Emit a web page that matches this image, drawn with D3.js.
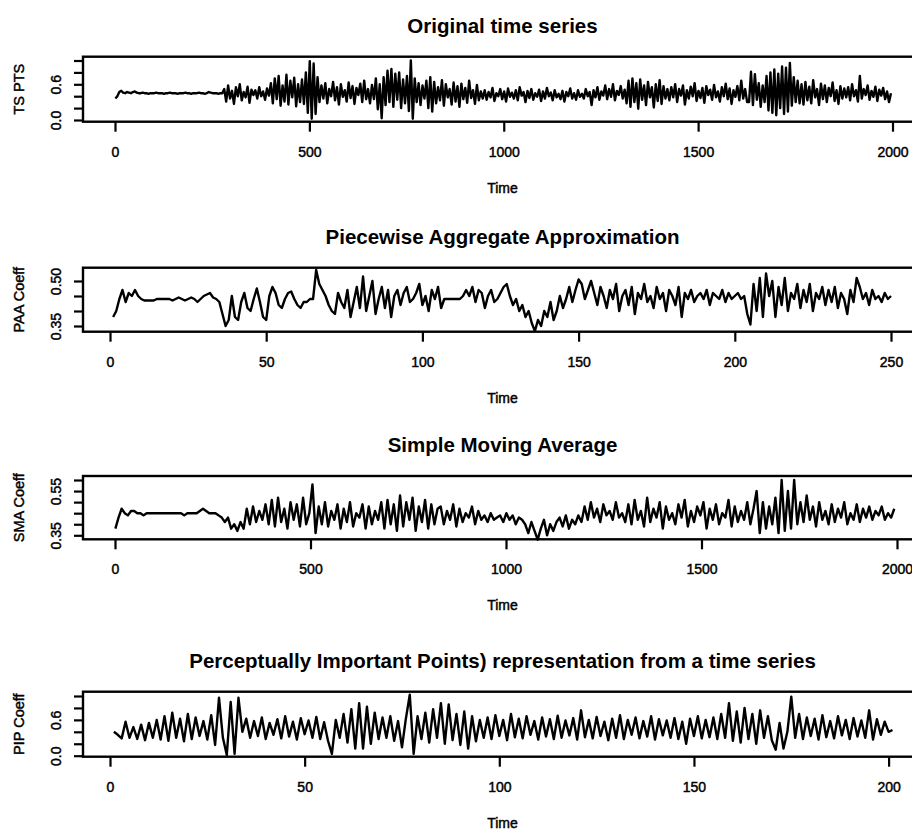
<!DOCTYPE html>
<html>
<head>
<meta charset="utf-8">
<script src="https://cdn.jsdelivr.net/npm/d3@7"></script>
<style>
body { margin: 0; background: #fff; }
text { font-family: "Liberation Sans", Arial, sans-serif; fill: #000; }
.lbl { stroke: #000; stroke-width: 0.45px; }
</style>
</head>
<body>
<div id="chart"></div>
<script>
//Data (one value every "step" time units)

//Original time series: t = 1, 6, 11, ... , 1996
var tsStep = 5;
var tsValues = [
    0.36,0.40,0.47,0.49,0.46,0.45,0.47,0.46,0.45,0.47,0.48,0.46,0.45,0.45,0.46,0.45,0.45,0.44,0.45,0.45,
    0.45,0.46,0.45,0.45,0.45,0.44,0.45,0.45,0.46,0.45,0.45,0.45,0.44,0.45,0.45,0.45,0.46,0.45,0.45,0.44,
    0.45,0.45,0.45,0.46,0.45,0.45,0.44,0.45,0.47,0.46,0.45,0.45,0.45,0.44,0.45,0.45,
    0.52,0.31,0.58,0.36,0.49,0.27,0.55,0.40,0.60,0.33,0.47,0.38,0.56,0.29,0.51,0.42,
    0.50,0.36,0.55,0.40,0.48,0.34,0.53,0.41,
    0.62,0.28,0.70,0.35,0.74,0.24,0.58,0.31,0.76,0.26,0.66,0.38,0.71,0.23,0.60,0.30,0.68,
    0.27,0.80,0.12,0.99,0.02,0.95,0.10,0.72,
    0.30,0.58,0.36,0.62,0.28,0.52,0.40,0.64,0.33,0.55,0.26,0.60,0.39,0.50,0.31,0.63,0.37,0.57,0.27,0.54,
    0.42,0.61,0.30,0.66,0.35,0.52,0.28,0.59,
    0.35,0.70,0.18,0.60,0.03,0.72,0.25,0.83,0.30,0.86,0.22,0.78,0.34,0.80,0.20,0.68,0.28,0.74,0.15,
    1.00,0.02,0.70,
    0.30,0.62,0.25,0.58,0.36,0.66,0.20,0.72,0.14,0.64,0.28,0.55,0.33,0.67,0.24,0.60,0.38,0.52,0.26,0.63,
    0.31,0.57,0.22,0.61,0.35,0.54,0.29,0.66,0.37,0.50,0.27,0.59,0.33,0.48,0.36,
    0.50,0.34,0.47,0.38,0.54,0.32,0.45,0.40,0.52,0.35,0.48,0.31,0.53,0.39,0.46,0.36,0.50,0.33,0.55,0.41,
    0.47,0.30,0.49,0.37,0.52,0.34,0.45,0.39,0.51,0.32,0.48,0.36,0.54,0.40,0.46,0.33,0.50,0.38,0.44,0.35,
    0.49,0.31,0.47,0.40,0.53,0.36,0.45,0.34,0.50,0.39,
    0.44,0.36,0.52,0.40,0.47,0.25,0.50,0.38,0.55,0.34,0.48,0.41,0.58,0.35,0.52,0.39,0.60,0.33,0.49,0.42,
    0.57,0.36,0.51,
    0.28,0.66,0.22,0.70,0.30,0.62,0.19,0.68,0.34,0.58,0.25,0.64,0.38,0.55,0.21,0.60,0.32,0.67,0.27,0.57,
    0.36,0.52,
    0.33,0.55,0.38,0.60,0.30,0.52,0.41,0.58,0.26,0.50,0.36,0.56,0.40,0.62,0.32,0.49,0.37,0.54,0.29,0.57,
    0.42,0.51,0.34,0.59,0.38,0.48,0.31,0.55,0.40,0.61,0.35,0.53,0.27,0.50,0.39,0.57,0.33,0.66,0.36,0.52,
    0.30,
    0.30,0.81,0.25,0.77,0.34,0.62,0.22,0.58,0.30,0.74,0.16,0.80,0.12,0.85,0.08,0.78,0.20,0.90,0.10,0.88,
    0.14,0.96,0.24,0.72,0.30,0.66,0.28,
    0.60,0.26,0.64,0.33,0.56,0.28,0.67,0.38,0.52,0.25,0.61,0.35,0.58,0.30,0.54,0.40,0.63,0.32,0.50,0.27,
    0.57,0.36,0.53,
    0.38,0.55,0.33,0.60,0.40,0.50,0.31,0.74,0.36,0.52,0.42,0.58,0.34,0.49,0.39,0.56,0.32,0.51,0.41,0.54,
    0.35,0.48,0.30,0.45
];

//Piecewise Aggregate Approximation: t = 1 .. 250
var paaStep = 1;
var paaValues = [
    0.38,0.40,0.44,0.47,0.43,0.46,0.45,0.47,0.45,0.44,
    0.435,0.435,0.435,0.435,0.44,0.44,0.44,0.44,0.44,0.435,
    0.44,0.445,0.44,0.435,0.44,0.445,0.44,0.43,0.44,0.45,
    0.455,0.46,0.445,0.44,0.43,0.39,0.35,0.37,0.45,0.38,
    0.37,0.43,0.46,0.41,0.40,0.44,0.475,0.43,0.38,0.37,
    0.45,0.48,0.46,0.42,0.41,0.44,0.46,0.465,0.44,0.42,
    0.41,0.43,0.43,0.44,0.44,0.537,0.49,0.47,0.45,0.42,
    0.40,0.39,0.46,0.43,0.41,0.47,0.38,0.43,0.48,0.41,
    0.515,0.40,0.45,0.50,0.39,0.44,0.48,0.41,0.47,0.38,
    0.45,0.47,0.42,0.46,0.48,0.43,0.44,0.46,0.49,0.42,
    0.45,0.40,0.47,0.44,0.48,0.41,0.44,0.44,0.44,0.44,
    0.44,0.44,0.45,0.47,0.45,0.48,0.43,0.47,0.46,0.41,
    0.45,0.47,0.43,0.44,0.46,0.48,0.49,0.45,0.42,0.44,
    0.40,0.42,0.38,0.40,0.36,0.333,0.37,0.35,0.40,0.38,
    0.43,0.37,0.40,0.45,0.41,0.44,0.48,0.43,0.47,0.505,
    0.49,0.44,0.47,0.50,0.46,0.42,0.48,0.45,0.41,0.47,
    0.44,0.49,0.40,0.45,0.47,0.42,0.48,0.39,0.46,0.44,
    0.49,0.43,0.45,0.41,0.48,0.44,0.46,0.40,0.47,0.45,
    0.42,0.48,0.38,0.46,0.44,0.47,0.43,0.45,0.46,0.44,
    0.47,0.42,0.46,0.45,0.44,0.47,0.43,0.46,0.44,0.45,
    0.46,0.44,0.45,0.39,0.355,0.49,0.40,0.51,0.38,0.525,
    0.45,0.50,0.38,0.48,0.42,0.51,0.40,0.46,0.44,0.49,
    0.41,0.47,0.43,0.49,0.40,0.46,0.44,0.48,0.42,0.47,
    0.43,0.48,0.41,0.46,0.44,0.39,0.47,0.43,0.51,0.48,
    0.44,0.46,0.42,0.47,0.44,0.45,0.43,0.46,0.44,0.45
];

//Simple Moving Average: t = 1, 9, 17, ... , 1993
var smaStep = 8;
var smaValues = [
    0.38,0.43,0.47,0.45,0.44,0.46,0.46,0.45,0.45,0.44,0.45,0.45,0.45,0.45,0.45,0.45,0.45,0.45,0.45,0.45,
    0.45,0.45,0.44,0.45,0.45,0.45,0.45,0.46,0.47,0.46,0.45,0.45,0.45,0.44,
    0.43,0.41,0.43,0.38,0.40,0.37,0.41,0.38,
    0.47,0.40,0.48,0.41,0.46,0.42,0.49,0.40,
    0.51,0.39,0.52,0.41,0.47,0.38,0.50,0.42,0.49,0.39,0.52,0.40,0.45,
    0.58,0.36,
    0.48,0.40,0.50,0.39,0.46,0.42,0.49,0.38,0.47,0.41,0.50,0.39,0.45,0.43,0.49,0.38,0.48,0.40,0.46,0.42,
    0.50,
    0.38,0.51,0.40,0.49,0.37,0.53,0.39,0.50,0.42,0.52,0.37,0.48,0.41,0.51,0.38,0.49,0.40,0.47,
    0.48,0.40,0.46,0.42,0.49,0.39,0.47,0.41,0.45,0.43,0.48,0.40,0.46,0.42,
    0.44,0.41,0.45,0.42,0.43,0.44,0.41,0.45,0.42,0.44,0.40,0.43,0.42,
    0.40,0.36,0.41,0.37,0.33,0.38,0.42,0.35,0.40,0.37,0.41,
    0.43,0.39,0.44,0.38,0.42,0.40,0.44,0.41,
    0.48,0.42,0.50,0.43,0.47,0.41,0.49,0.44,0.46,0.42,0.50,0.43,0.45,0.41,
    0.49,0.40,0.51,0.42,0.46,0.39,0.52,0.41,0.47,0.43,0.50,0.38,0.48,0.42,0.45,0.40,0.49,0.43,0.51,0.39,
    0.46,0.41,0.48,0.44,0.50,0.38,0.47,0.42,0.49,0.40,0.45,0.43,0.51,0.39,0.48,0.41,0.46,0.42,0.50,0.40,
    0.47,
    0.55,0.36,0.50,0.38,0.48,0.40,0.52,0.36,0.60,0.37,0.55,0.38,0.60,0.40,0.50,0.41,0.53,0.42,
    0.48,0.39,0.50,0.42,0.46,0.40,0.49,0.41,0.47,0.43,0.50,0.40,0.45,0.42,0.49,0.41,0.47,0.43,0.48,0.42,
    0.46,0.44,0.48,0.42,0.45,0.43,0.47
];

//Perceptually Important Points: t = 1 .. 201
var pipStep = 1;
var pipValues = [
    0.40,0.35,0.29,0.57,0.30,0.48,0.28,0.52,0.26,0.55,
    0.30,0.60,0.27,0.66,0.25,0.72,0.30,0.62,0.24,0.70,0.28,0.64,0.33,0.58,0.27,0.68,0.18,
    0.97,0.30,0.01,0.90,0.03,0.97,
    0.40,0.62,0.30,0.58,0.33,0.64,0.28,0.55,0.35,0.61,0.29,0.66,0.32,0.57,0.27,0.63,0.36,0.59,0.30,0.65,
    0.28,0.56,0.25,
    0.03,
    0.60,0.30,0.70,0.22,0.78,0.12,0.88,0.12,0.82,0.20,0.72,0.28,0.64,
    0.30,0.66,0.25,0.58,0.14,0.62,
    1.02,0.03,
    0.66,0.28,0.72,0.22,0.78,0.30,0.88,0.20,0.86,0.26,0.70,0.18,0.74,0.12,0.66,0.24,0.60,
    0.30,0.64,0.28,0.68,0.33,0.60,0.26,0.70,0.31,0.62,
    0.29,0.66,0.35,0.58,0.27,0.64,0.32,0.61,0.28,0.67,
    0.30,0.59,0.34,0.63,0.27,0.76,0.31,0.60,0.29,0.65,
    0.33,0.57,0.26,0.62,0.30,0.68,0.28,0.60,0.35,0.64,
    0.29,0.58,0.32,0.66,0.27,0.61,0.34,0.59,0.30,0.63,
    0.28,0.57,0.20,0.62,0.33,0.66,0.29,0.60,0.31,0.64,
    0.28,0.70,0.30,
    0.88,0.25,0.74,0.22,0.80,0.28,0.70,0.20,0.76,0.30,0.66,0.26,
    0.10,0.55,0.12,0.40,
    0.99,
    0.30,0.70,0.28,0.64,0.33,0.62,0.27,0.68,0.31,0.58,0.29,0.66,0.34,0.60,0.28,0.63,0.32,0.59,0.30,0.76,
    0.27,0.61,0.35,0.57,0.40,0.43
];

//Titles and tick labels
var titles = ["Original time series", "Piecewise Aggregate Approximation", "Simple Moving Average",
    "Perceptually Important Points) representation from a time series"];
var yTitles = ["TS PTS", "PAA Coeff", "SMA Coeff", "PIP Coeff"];

var tsXTicks = [0, 500, 1000, 1500, 2000];
var paaXTicks = [0, 50, 100, 150, 200, 250];
var pipXTicks = [0, 50, 100, 150, 200];

var unitYTicks = [0, 0.2, 0.4, 0.6, 0.8, 1.0];
var unitYLabels = ["0.0", "", "", "0.6", "", ""];
var paaYTicks = [0.35, 0.40, 0.45, 0.50];
var paaYLabels = ["0.35", "", "", "0.50"];
var smaYTicks = [0.35, 0.40, 0.45, 0.50, 0.55, 0.60];
var smaYLabels = ["0.35", "", "", "", "0.55", ""];

//Setup
var width = 912, height = 830;
var boxLeft = 83, boxRight = 924;

var panels = [
    { values: tsValues, step: tsStep, xTicks: tsXTicks, yTicks: unitYTicks, yLabels: unitYLabels,
      top: 56.7, bottom: 121.7, xRange: [115, 892.5], yDomain: [0, 1], yRange: [120, 60.5] },
    { values: paaValues, step: paaStep, xTicks: paaXTicks, yTicks: paaYTicks, yLabels: paaYLabels,
      top: 267.7, bottom: 331.7, xRange: [110, 891], yDomain: [0.35, 0.50], yRange: [326, 281] },
    { values: smaValues, step: smaStep, xTicks: tsXTicks, yTicks: smaYTicks, yLabels: smaYLabels,
      top: 476, bottom: 539.3, xRange: [115, 897], yDomain: [0.35, 0.60], yRange: [535.3, 480] },
    { values: pipValues, step: pipStep, xTicks: pipXTicks, yTicks: unitYTicks, yLabels: unitYLabels,
      top: 691.7, bottom: 756.7, xRange: [110, 888.6], yDomain: [0, 1], yRange: [755.7, 696] }
];

var svg = d3.select("#chart")
    .append("svg")
    .attr("width", width)
    .attr("height", height);

panels.forEach(function (p, k) {
    var xTickMax = p.xTicks[p.xTicks.length - 1];
    var x = d3.scaleLinear().domain([0, xTickMax]).range(p.xRange);
    var y = d3.scaleLinear().domain(p.yDomain).range(p.yRange);
    var mid = (p.top + p.bottom) / 2;
    var cx = (boxLeft + boxRight) / 2 - 1;

    var g = svg.append("g");

    //Series line
    var line = d3.line()
        .x(function (d, i) { return x(1 + i * p.step); })
        .y(function (d) { return y(d); });

    g.append("path")
        .attr("d", line(p.values))
        .attr("fill", "none")
        .attr("stroke", "#000")
        .attr("stroke-width", 2.4)
        .attr("stroke-linejoin", "round");

    //Box
    g.append("rect")
        .attr("x", boxLeft)
        .attr("y", p.top)
        .attr("width", boxRight - boxLeft)
        .attr("height", p.bottom - p.top)
        .attr("fill", "none")
        .attr("stroke", "#000")
        .attr("stroke-width", 2.4);

    //X axis
    var xAxis = g.append("g")
        .attr("transform", "translate(0," + p.bottom + ")")
        .call(d3.axisBottom(x).tickValues(p.xTicks).tickSize(10).tickFormat(d3.format("d")));
    xAxis.select(".domain").remove();
    xAxis.selectAll("line").attr("stroke-width", 2.2);
    xAxis.selectAll("text")
        .attr("class", "lbl")
        .attr("y", 35)
        .attr("dy", 0)
        .style("font-size", "14px")
        .style("font-family", "Liberation Sans, Arial, sans-serif");

    //Y axis
    var yAxis = g.append("g")
        .attr("transform", "translate(" + boxLeft + ",0)")
        .call(d3.axisLeft(y).tickValues(p.yTicks).tickSize(9)
            .tickFormat(function (d, i) { return p.yLabels[i]; }));
    yAxis.select(".domain").remove();
    yAxis.selectAll("line").attr("stroke-width", 2.2);
    yAxis.selectAll("text")
        .attr("class", "lbl")
        .attr("x", null)
        .attr("dy", "0.35em")
        .attr("text-anchor", "middle")
        .attr("transform", "translate(-27,0) rotate(-90)")
        .style("font-size", "14px")
        .style("font-family", "Liberation Sans, Arial, sans-serif");

    //Titles
    g.append("text")
        .attr("x", cx)
        .attr("y", p.top - 24)
        .attr("text-anchor", "middle")
        .style("font-size", "20.5px")
        .style("font-weight", "bold")
        .text(titles[k]);

    g.append("text")
        .attr("class", "lbl")
        .attr("x", cx)
        .attr("y", p.bottom + 71)
        .attr("text-anchor", "middle")
        .style("font-size", "14px")
        .text("Time");

    g.append("text")
        .attr("class", "lbl")
        .attr("transform", "translate(19," + mid + ") rotate(-90)")
        .attr("dy", "0.35em")
        .attr("text-anchor", "middle")
        .style("font-size", "14.5px")
        .text(yTitles[k]);
});
</script>
</body>
</html>
